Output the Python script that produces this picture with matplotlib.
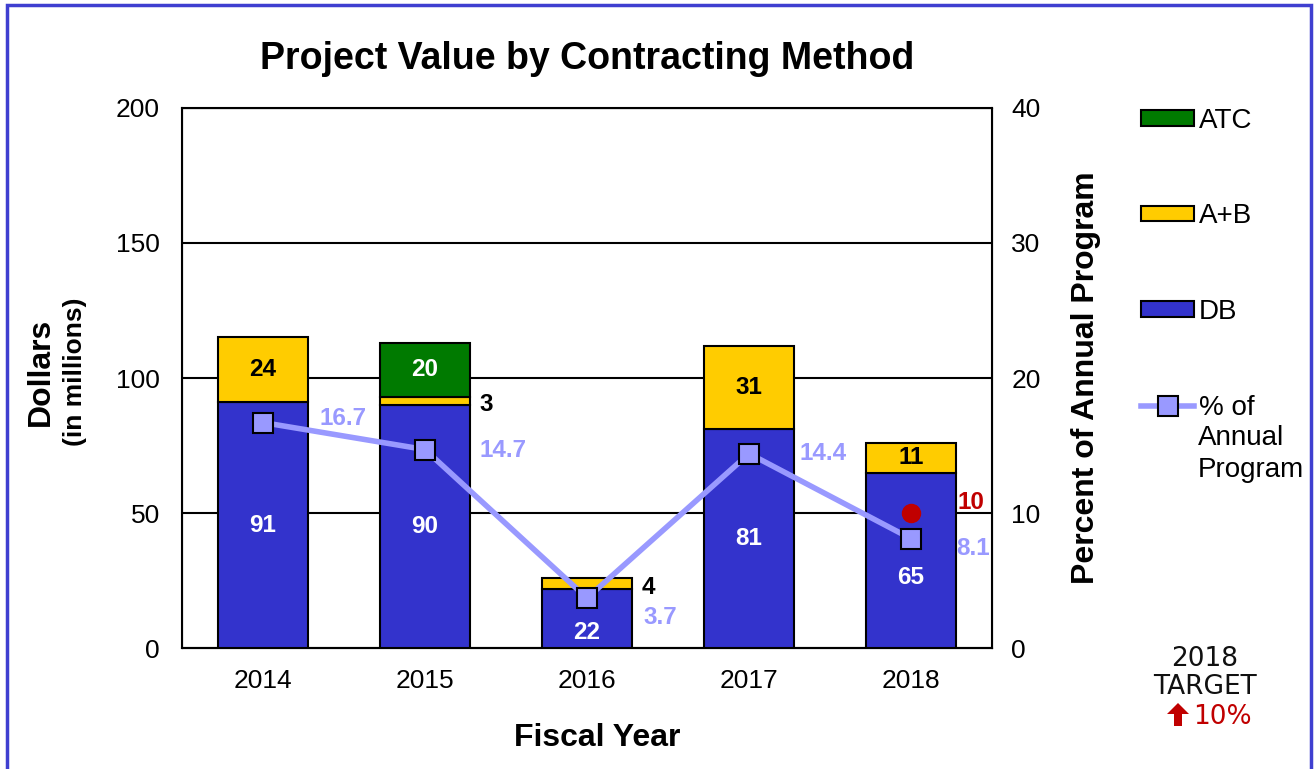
import matplotlib
matplotlib.use("Agg")
import matplotlib.pyplot as plt
import numpy as np
from matplotlib.patches import Patch, Rectangle, FancyArrow
from matplotlib.lines import Line2D

plt.rcParams['font.family'] = ['Liberation Sans', 'DejaVu Sans']

years = ["2014", "2015", "2016", "2017", "2018"]
db = [91, 90, 22, 81, 65]
ab = [24, 3, 4, 31, 11]
atc = [0, 20, 0, 0, 0]
pct = [16.7, 14.7, 3.7, 14.4, 8.1]
target_2018 = 10

c_db = "#3333CC"
c_ab = "#FFCC00"
c_atc = "#007A00"
c_line = "#9999FF"
c_red = "#C00000"

fig = plt.figure(figsize=(13.15, 7.69), dpi=100)
ax = fig.add_axes([0.1384, 0.1573, 0.6160, 0.7023])
ax2 = ax.twinx()

x = np.arange(len(years))
w = 0.555
ab_bottom = np.array(db)
atc_bottom = ab_bottom + np.array(ab)
ax.bar(x, db, w, color=c_db, edgecolor="black", linewidth=1.5, zorder=3)
ax.bar(x, ab, w, bottom=ab_bottom, color=c_ab, edgecolor="black", linewidth=1.5, zorder=3)
atc_x = [i for i in x if atc[i] > 0]
ax.bar(atc_x, [atc[i] for i in atc_x], w, bottom=[atc_bottom[i] for i in atc_x],
       color=c_atc, edgecolor="black", linewidth=1.5, zorder=3)

ax.set_ylim(0, 200)
ax.set_xlim(-0.5, len(years) - 0.5)
ax.set_yticks([0, 50, 100, 150, 200])
ax.yaxis.grid(True, color="black", linewidth=1.5, zorder=0)
ax.set_axisbelow(True)
ax.set_xticks(x)
ax.set_xticklabels(years)
ax.tick_params(axis="y", length=0, labelsize=19, pad=16)
ax.tick_params(axis="x", length=0, labelsize=19, pad=15)
for s in ax.spines.values():
    s.set_linewidth(1.5)

lab_fs = 17.5
# bar labels
db_dy = [0, 0, -14, 0, -17]
for i in x:
    ax.annotate(str(db[i]), (i, db[i] / 2), xytext=(0, db_dy[i]), textcoords="offset pixels",
                ha="center", va="center", color="white", fontsize=lab_fs, fontweight="bold", zorder=5)
    if ab[i] >= 10:
        ax.text(i, db[i] + ab[i] / 2, str(ab[i]), ha="center", va="center",
                color="black", fontsize=lab_fs, fontweight="bold", zorder=5)
    else:
        ax.annotate(str(ab[i]), (i + w / 2, db[i] + ab[i] / 2), xytext=(10, -4),
                    textcoords="offset pixels", ha="left", va="center",
                    color="black", fontsize=lab_fs, fontweight="bold", zorder=5)
    if atc[i] > 0:
        ax.text(i, atc_bottom[i] + atc[i] / 2, str(atc[i]), ha="center", va="center",
                color="white", fontsize=lab_fs, fontweight="bold", zorder=5)

# percent line
ax2.plot(x, pct, color=c_line, linewidth=4, marker="s", markersize=14,
         markerfacecolor=c_line, markeredgecolor="black", markeredgewidth=1.5, zorder=6)
pct_dx = [57, 54, 56, 50, 45]
pct_dy = [4, -1, -19, 0, -10]
for i in x:
    ax2.annotate(f"{pct[i]}", (i, pct[i]), xytext=(pct_dx[i], pct_dy[i]), textcoords="offset pixels",
                 ha="left", va="center", color=c_line, fontsize=lab_fs, fontweight="bold")
ax2.plot([4], [target_2018], "o", color=c_red, markersize=13, zorder=7)
ax2.annotate(str(target_2018), (4, target_2018), xytext=(46, 11), textcoords="offset pixels",
             ha="left", va="center", color=c_red, fontsize=lab_fs, fontweight="bold")
ax2.set_ylim(0, 40)
ax2.set_yticks([0, 10, 20, 30, 40])
ax2.tick_params(axis="y", length=0, labelsize=19, pad=14)
ax.set_zorder(1)
ax2.set_zorder(2)
ax2.patch.set_visible(False)

ax.set_title("Project Value by Contracting Method", fontsize=27, fontweight="bold", pad=28)
ax.set_xlabel("Fiscal Year", fontsize=23, fontweight="bold")
ax.xaxis.set_label_coords(0.512, -0.138)
ax2.set_ylabel("Percent of Annual Program", fontsize=23, fontweight="bold", labelpad=22)
fig.text(0.031, 0.516, "Dollars", rotation=90, ha="center", va="center", fontsize=23, fontweight="bold")
fig.text(0.057, 0.516, "(in millions)", rotation=90, ha="center", va="center", fontsize=19, fontweight="bold")

handles = [
    Patch(facecolor=c_atc, edgecolor="black", linewidth=1.5),
    Patch(facecolor=c_ab, edgecolor="black", linewidth=1.5),
    Patch(facecolor=c_db, edgecolor="black", linewidth=1.5),
    Line2D([], [], color=c_line, linewidth=4, marker="s", markersize=14,
           markerfacecolor=c_line, markeredgecolor="black", markeredgewidth=1.5),
]
labels = ["ATC", "A+B", "DB", "% of"]
fig.legend(handles, labels, loc="upper left", bbox_to_anchor=(0.868, 0.860), frameon=False,
           fontsize=20, handlelength=1.9, handleheight=0.5, handletextpad=0.18, labelspacing=2.51,
           borderpad=0, borderaxespad=0)
fig.text(0.911, 0.4095, "Annual\nProgram", ha="left", va="center", fontsize=20, linespacing=1.3)

fig.text(0.916, 0.125, "2018\nTARGET", ha="center", va="center", fontsize=19,
         family=["DejaVu Sans"], linespacing=1.1, color="#111111")
fig.text(0.907, 0.067, "10%", ha="left", va="center", fontsize=19,
         family=["DejaVu Sans"], color=c_red)
fig.add_artist(FancyArrow(1178 / 1315, 1 - 726 / 769, 0, 23 / 769, width=8 / 1315,
                          head_width=22 / 1315, head_length=11 / 769, length_includes_head=True,
                          transform=fig.transFigure, color=c_red, linewidth=0))

fig.add_artist(Rectangle((0.005, -0.02), 0.992, 1.014, transform=fig.transFigure,
                         fill=False, edgecolor="#3F3FD0", linewidth=2.5))

fig.savefig("out.png", dpi=100)
